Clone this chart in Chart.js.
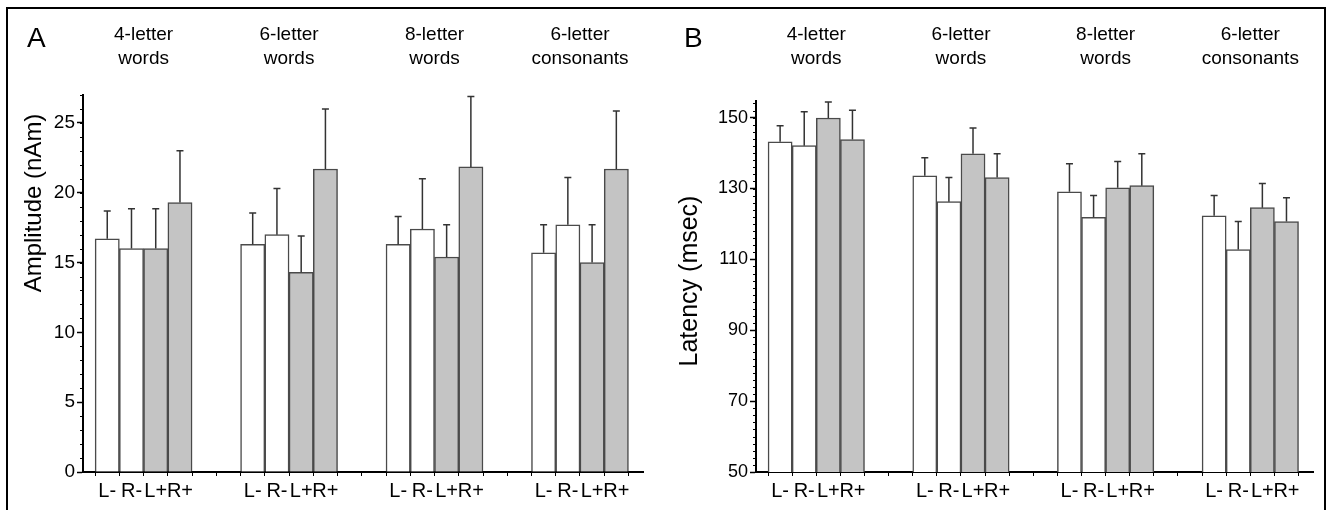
<!DOCTYPE html>
<html>
<head>
<meta charset="utf-8">
<title>Amplitude and latency</title>
<script src="https://cdn.jsdelivr.net/npm/chart.js@4.4.0/dist/chart.umd.min.js"></script>
<style>
  body { margin: 0; background: #fff; width: 1328px; height: 510px; overflow: hidden; position: relative; }
  #frame { position: absolute; left: 6px; top: 7px; width: 1316px; height: 520px; border: 2px solid #000; border-bottom: none; }
  .panel { position: absolute; top: 0; width: 664px; height: 510px; }
</style>
</head>
<body>
<div id="frame"></div>
<div class="panel" style="left:0"><canvas id="chartA" width="664" height="510"></canvas></div>
<div class="panel" style="left:664px"><canvas id="chartB" width="664" height="510"></canvas></div>
<script>
const groups = [["4-letter", "words"], ["6-letter", "words"], ["8-letter", "words"], ["6-letter", "consonants"]];
const conditions = ["L-", "R-", "L+", "R+"];
const fills = ["#ffffff", "#ffffff", "#c4c4c4", "#c4c4c4"];

// ---- A: amplitude (nAm), one value per group ----
const ampLminus = [16.7, 16.3, 16.3, 15.7];
const ampRminus = [16.0, 17.0, 17.4, 17.7];
const ampLplus  = [16.0, 14.3, 15.4, 15.0];
const ampRplus  = [19.3, 21.7, 21.85, 21.7];
const ampLminusSd = [2.0, 2.25, 2.0, 2.0];
const ampRminusSd = [2.85, 3.3, 3.6, 3.4];
const ampLplusSd  = [2.85, 2.6, 2.3, 2.7];
const ampRplusSd  = [3.7, 4.3, 5.05, 4.15];
const ampTicks = [0, 5, 10, 15, 20, 25];

// ---- B: latency (msec) ----
const latLminus = [143.2, 133.6, 129.1, 122.3];
const latRminus = [142.1, 126.3, 121.9, 112.8];
const latLplus  = [149.9, 139.8, 130.2, 124.6];
const latRplus  = [143.8, 133.1, 130.8, 120.7];
const latLminusSd = [4.5, 5.1, 7.9, 5.7];
const latRminusSd = [9.6, 6.8, 6.1, 7.9];
const latLplusSd  = [4.5, 7.3, 7.4, 6.8];
const latRplusSd  = [8.3, 6.7, 9.0, 6.7];
const latTicks = [50, 70, 90, 110, 130, 150];

const FONT = '"Liberation Sans", Arial, Helvetica, sans-serif';
Chart.defaults.font.family = FONT;
Chart.defaults.color = "#000";

// each group takes 6 slots: 4 bars + 2 empty
const SLOTS = 6;
const slotTicks = Array.from({ length: 23 }, (_, i) => i);

const errorBars = {
  id: "errorBars",
  afterDatasetsDraw(chart) {
    const ctx = chart.ctx;
    const y = chart.scales.y;
    ctx.save();
    ctx.strokeStyle = "#333";
    ctx.lineWidth = 1.5;
    chart.data.datasets.forEach((ds, i) => {
      chart.getDatasetMeta(i).data.forEach((bar, j) => {
        const top = y.getPixelForValue(ds.data[j].y + ds.sd[j]);
        ctx.beginPath();
        ctx.moveTo(bar.x, bar.y);
        ctx.lineTo(bar.x, top);
        ctx.moveTo(bar.x - 3.5, top);
        ctx.lineTo(bar.x + 3.5, top);
        ctx.stroke();
      });
    });
    ctx.restore();
  }
};

// small minor ticks on the y axis + panel letter + rotated axis title
const panelText = {
  id: "panelText",
  afterDraw(chart, args, o) {
    const ctx = chart.ctx;
    const y = chart.scales.y;
    const left = chart.chartArea.left;
    ctx.save();
    ctx.strokeStyle = "#000";
    ctx.lineWidth = 1;
    for (let v = y.min; v <= y.max; v += o.minorStep) {
      const p = Math.round(y.getPixelForValue(v)) + 0.5;
      ctx.beginPath();
      ctx.moveTo(left - 3, p);
      ctx.lineTo(left, p);
      ctx.stroke();
    }
    ctx.fillStyle = "#000";
    ctx.font = "28px " + FONT;
    ctx.textBaseline = "alphabetic";
    ctx.fillText(o.letter, o.letterX, 47);
    ctx.translate(o.titleX, o.titleY);
    ctx.rotate(-Math.PI / 2);
    ctx.textAlign = "center";
    ctx.textBaseline = "middle";
    ctx.font = o.titleSize + "px " + FONT;
    ctx.fillText(o.title, 0, 0);
    ctx.restore();
  }
};

function makeChart(id, cfg) {
  const datasets = conditions.map((c, i) => ({
    label: c,
    data: cfg.means[i].map((v, g) => ({ x: g * SLOTS + i, y: v })),
    sd: cfg.sds[i],
    backgroundColor: fills[i],
    borderColor: "#4a4a4a",
    borderWidth: 1.5,
    grouped: false,
    barPercentage: 1,
    categoryPercentage: 1
  }));

  return new Chart(document.getElementById(id), {
    type: "bar",
    data: { datasets },
    plugins: [errorBars, panelText],
    options: {
      responsive: false,
      animation: false,
      layout: { padding: { left: 0, right: cfg.padRight, top: 0, bottom: 0 } },
      plugins: {
        legend: { display: false },
        tooltip: { enabled: false },
        panelText: cfg.text
      },
      scales: {
        x: {
          type: "linear",
          offset: false,
          min: -1,
          max: 22.1,
          afterBuildTicks: s => { s.ticks = slotTicks.map(v => ({ value: v })); },
          afterFit: s => { s.height = 510 - 472; },
          ticks: {
            autoSkip: false,
            maxRotation: 0,
            padding: 3,
            font: { size: 20 },
            callback: v => (v % SLOTS < 4 ? conditions[v % SLOTS] : "")
          },
          grid: { drawOnChartArea: false, tickLength: 4, color: "#000" },
          border: { color: "#000", width: 2 }
        },
        top: {
          type: "linear",
          position: "top",
          offset: false,
          min: -1,
          max: 22.1,
          afterBuildTicks: s => { s.ticks = groups.map((g, i) => ({ value: i * SLOTS + 1.5 })); },
          afterFit: s => { s.height = cfg.chartTop; },
          ticks: {
            autoSkip: false,
            maxRotation: 0,
            padding: cfg.chartTop - 79,
            font: { size: 19, lineHeight: 1.26 },
            callback: (v, i) => groups[i]
          },
          grid: { display: false },
          border: { display: false }
        },
        y: {
          min: cfg.yMin,
          max: cfg.yMax,
          afterBuildTicks: s => { s.ticks = cfg.ticks.map(v => ({ value: v })); },
          afterFit: s => { s.width = cfg.axisLeft; },
          ticks: { padding: 2, font: { size: cfg.tickSize } },
          grid: { drawOnChartArea: false, tickLength: 6, color: "#000", tickWidth: 1.5 },
          border: { color: "#000", width: 2 }
        }
      }
    }
  });
}

makeChart("chartA", {
  means: [ampLminus, ampRminus, ampLplus, ampRplus],
  sds: [ampLminusSd, ampRminusSd, ampLplusSd, ampRplusSd],
  ticks: ampTicks,
  yMin: 0, yMax: 27,
  axisLeft: 83, padRight: 21, chartTop: 95, tickSize: 19,
  text: { letter: "A", letterX: 27, title: "Amplitude (nAm)", titleX: 34, titleY: 203, titleSize: 24, minorStep: 1 }
});

makeChart("chartB", {
  means: [latLminus, latRminus, latLplus, latRplus],
  sds: [latLminusSd, latRminusSd, latLplusSd, latRplusSd],
  ticks: latTicks,
  yMin: 50, yMax: 154.7,
  axisLeft: 92, padRight: 15, chartTop: 101, tickSize: 18,
  text: { letter: "B", letterX: 20, title: "Latency (msec)", titleX: 26, titleY: 281, titleSize: 25, minorStep: 2 }
});
</script>
</body>
</html>
